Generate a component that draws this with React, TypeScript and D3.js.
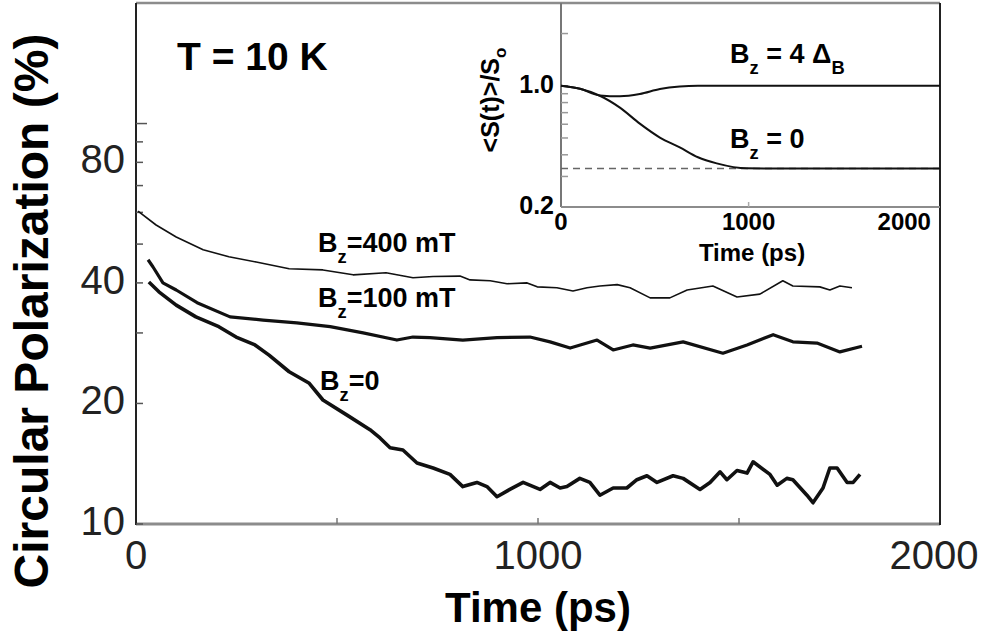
import React, { useRef, useEffect } from 'react';
import * as d3 from 'd3';

// main panel: circular polarization vs time
const t400 = [5, 50, 100, 167, 231, 299, 381, 465, 540, 622, 689, 739, 806, 831, 881, 923, 973, 998, 1047, 1087, 1122, 1154, 1197, 1229, 1279, 1328, 1371, 1435, 1495, 1552, 1609, 1634, 1701, 1726, 1751, 1781];
const p400 = [60.4, 55.8, 52.1, 48.4, 46.5, 45.1, 43.4, 43.1, 41.9, 42.4, 41.2, 41.5, 41.6, 40.7, 40.5, 39.8, 40.0, 39.1, 38.9, 38.2, 38.9, 39.3, 39.6, 38.9, 36.7, 36.7, 38.4, 39.3, 36.9, 37.5, 40.5, 39.3, 39.1, 38.4, 39.3, 38.9];

const t100 = [30, 42, 67, 100, 152, 234, 316, 400, 483, 565, 649, 689, 731, 813, 898, 980, 1030, 1080, 1147, 1187, 1236, 1279, 1361, 1460, 1520, 1585, 1634, 1694, 1751, 1806];
const p100 = [45.7, 43.9, 40.0, 38.4, 35.7, 32.9, 32.3, 31.8, 31.1, 30.0, 28.8, 29.3, 29.2, 28.8, 29.2, 29.3, 28.5, 27.5, 28.8, 27.2, 28.0, 27.5, 28.5, 26.7, 28.0, 29.7, 28.5, 28.3, 26.9, 27.8];

const t0 = [32, 57, 100, 149, 206, 249, 296, 331, 381, 430, 465, 525, 582, 607, 632, 664, 699, 739, 781, 813, 848, 873, 898, 930, 963, 1005, 1030, 1055, 1072, 1104, 1129, 1154, 1187, 1221, 1246, 1271, 1296, 1336, 1361, 1403, 1428, 1453, 1470, 1495, 1520, 1535, 1577, 1595, 1619, 1634, 1669, 1684, 1709, 1726, 1744, 1769, 1784, 1801];
const p0 = [40.2, 38.0, 35.2, 32.9, 31.1, 29.3, 28.0, 26.4, 24.0, 22.5, 20.4, 18.7, 17.2, 16.4, 15.5, 15.3, 14.2, 13.8, 13.3, 12.4, 12.7, 12.4, 11.7, 12.2, 12.7, 12.2, 12.7, 12.3, 12.4, 13.0, 12.7, 11.8, 12.3, 12.3, 12.9, 13.2, 12.7, 13.2, 13.0, 12.2, 12.7, 13.5, 12.9, 13.6, 13.4, 14.3, 13.3, 12.5, 13.0, 12.9, 11.8, 11.3, 12.3, 13.8, 13.8, 12.7, 12.7, 13.3];

const mainYLabels = [10, 20, 40, 80];
const mainYMinor = [30, 50, 60, 70, 90, 100];
const mainXLabels = [0, 1000, 2000];
const mainXMinor = [500, 1000, 1500];

// inset: model <S(t)>/S0
const insetT = [0, 101, 207, 314, 420, 527, 633, 730, 830, 990, 1200, 1500, 2020];
const insetZero = [1.0, 0.96, 0.876, 0.748, 0.605, 0.503, 0.441, 0.387, 0.357, 0.334, 0.333, 0.333, 0.333];
const insetFour = [1.0, 0.96, 0.88, 0.87, 0.896, 0.957, 0.99, 1.0, 1.0, 1.0, 1.0, 1.0, 1.0];
const insetLimit = 1 / 3;
const insetYLabels = [0.2, 1.0];
const insetYMinor = [0.3, 0.4, 0.5, 0.6, 0.7, 0.8, 0.9, 1.0, 2.0];
const insetXLabels = [0, 1000, 2000];

const FONT = '"Liberation Sans", Arial, Helvetica, sans-serif';

const App = () => {
  const svgRef = useRef(null);

  useEffect(() => {
    const svg = d3.select(svgRef.current);
    svg.selectAll('*').remove();
    svg.attr('font-family', FONT);

    const x = d3.scaleLinear().domain([0, 2000]).range([136, 940]);
    const y = d3.scaleLog().domain([10, 200]).range([524, 3]);

    const xi = d3.scaleLinear().domain([0, 2020]).range([561, 940]);
    const yi = d3.scaleLog().domain([0.2, 3]).range([207, 3]);

    const [x0, x1] = x.range();
    const [y0, y1] = y.range();

    // frame
    svg.append('line').attr('x1', x0).attr('x2', x1).attr('y1', y1).attr('y2', y1)
      .attr('stroke', '#8c8c8c').attr('stroke-width', 2.5);
    svg.append('line').attr('x1', x0).attr('x2', x1).attr('y1', y0).attr('y2', y0)
      .attr('stroke', '#8c8c8c').attr('stroke-width', 3);
    svg.append('line').attr('x1', x0).attr('x2', x0).attr('y1', y1).attr('y2', y0 + 1)
      .attr('stroke', '#222').attr('stroke-width', 2);
    svg.append('line').attr('x1', x1).attr('x2', x1).attr('y1', y1).attr('y2', y0 + 1)
      .attr('stroke', '#222').attr('stroke-width', 2);

    // y ticks (inward)
    svg.selectAll('.ytick').data(mainYLabels.concat(mainYMinor)).enter().append('line')
      .attr('x1', x0).attr('x2', d => x0 + (d === 100 ? 11 : 7))
      .attr('y1', d => y(d)).attr('y2', d => y(d))
      .attr('stroke', '#555').attr('stroke-width', 1.5);
    svg.selectAll('.xtick').data(mainXMinor).enter().append('line')
      .attr('x1', d => x(d)).attr('x2', d => x(d))
      .attr('y1', y0).attr('y2', y0 - 6)
      .attr('stroke', '#777').attr('stroke-width', 1.5);

    svg.selectAll('.ylab').data(mainYLabels).enter().append('text')
      .attr('x', 125).attr('y', d => y(d) + 11)
      .attr('text-anchor', 'end').attr('font-size', 40).attr('fill', '#222')
      .text(d => d);
    svg.selectAll('.xlab').data(mainXLabels).enter().append('text')
      .attr('x', d => (d === 2000 ? x(d) - 6 : x(d))).attr('y', 569)
      .attr('text-anchor', 'middle').attr('font-size', 40).attr('fill', '#222')
      .text(d => d);

    svg.append('text')
      .attr('x', x(1000)).attr('y', 622)
      .attr('text-anchor', 'middle').attr('font-size', 42).attr('font-weight', 'bold')
      .text('Time (ps)');
    svg.append('text')
      .attr('transform', 'translate(48,311) rotate(-90)')
      .attr('text-anchor', 'middle').attr('font-size', 48).attr('font-weight', 'bold')
      .text('Circular Polarization (%)');

    svg.append('text')
      .attr('x', 177).attr('y', 70)
      .attr('font-size', 39).attr('font-weight', 'bold')
      .text('T = 10 K');

    // curves
    const line = d3.line().x(d => x(d[0])).y(d => y(d[1]));
    const series = [
      { t: t400, p: p400, w: 1.6 },
      { t: t100, p: p100, w: 3.2 },
      { t: t0, p: p0, w: 3.6 },
    ];
    series.forEach(s => {
      svg.append('path')
        .datum(s.t.map((t, i) => [t, s.p[i]]))
        .attr('fill', 'none').attr('stroke', '#111').attr('stroke-width', s.w)
        .attr('stroke-linejoin', 'round')
        .attr('d', line);
    });

    const subLabel = (px, py, size, parts) => {
      const txt = svg.append('text').attr('x', px).attr('y', py)
        .attr('font-size', size).attr('font-weight', 'bold');
      let shift = 0;
      parts.forEach(([str, sub]) => {
        const dy = sub ? size * 0.4 - shift : -shift;
        shift = sub ? size * 0.4 : 0;
        txt.append('tspan').attr('dy', dy)
          .attr('font-size', sub ? size * 0.68 : size)
          .text(str);
      });
      return txt;
    };

    subLabel(318, 252, 27, [['B', false], ['z', true], ['=400 mT', false]]);
    subLabel(318, 307, 27, [['B', false], ['z', true], ['=100 mT', false]]);
    subLabel(320, 390, 27, [['B', false], ['z', true], ['=0', false]]);

    // inset
    const [ix0, ix1] = xi.range();
    const [iy0, iy1] = yi.range();
    svg.append('line').attr('x1', ix0).attr('x2', ix0).attr('y1', iy1).attr('y2', iy0)
      .attr('stroke', '#777').attr('stroke-width', 2);
    svg.append('line').attr('x1', ix0).attr('x2', ix1).attr('y1', iy0).attr('y2', iy0)
      .attr('stroke', '#8c8c8c').attr('stroke-width', 2);

    svg.selectAll('.iytick').data(insetYMinor).enter().append('line')
      .attr('x1', ix0).attr('x2', ix0 + 7)
      .attr('y1', d => yi(d)).attr('y2', d => yi(d))
      .attr('stroke', '#999').attr('stroke-width', 1.5);
    svg.append('line')
      .attr('x1', xi(1000)).attr('x2', xi(1000)).attr('y1', iy0).attr('y2', iy0 - 5)
      .attr('stroke', '#aaa').attr('stroke-width', 1.5);

    svg.selectAll('.iylab').data(insetYLabels).enter().append('text')
      .attr('x', 554).attr('y', d => yi(d) + 7)
      .attr('text-anchor', 'end').attr('font-size', 25).attr('font-weight', 'bold')
      .text(d => d.toFixed(1));
    svg.selectAll('.ixlab').data(insetXLabels).enter().append('text')
      .attr('x', d => (d === 2000 ? xi(d) - 32 : xi(d))).attr('y', 230)
      .attr('text-anchor', 'middle').attr('font-size', 24).attr('font-weight', 'bold')
      .text(d => d);
    svg.append('text')
      .attr('x', 752).attr('y', 261)
      .attr('text-anchor', 'middle').attr('font-size', 24).attr('font-weight', 'bold')
      .text('Time (ps)');

    const iy = svg.append('text')
      .attr('transform', 'translate(499,100) rotate(-90)')
      .attr('text-anchor', 'middle').attr('font-size', 25).attr('font-weight', 'bold');
    iy.append('tspan').text('<S(t)>/S');
    iy.append('tspan').attr('dy', 7).attr('font-size', 17).text('o');

    svg.append('line')
      .attr('x1', ix0).attr('x2', ix1).attr('y1', yi(insetLimit)).attr('y2', yi(insetLimit))
      .attr('stroke', '#666').attr('stroke-width', 1.6).attr('stroke-dasharray', '7,5');

    const iline = d3.line().x(d => xi(d[0])).y(d => yi(d[1])).curve(d3.curveMonotoneX);
    [insetZero, insetFour].forEach(vals => {
      svg.append('path')
        .datum(insetT.map((t, i) => [t, vals[i]]))
        .attr('fill', 'none').attr('stroke', '#111').attr('stroke-width', 2)
        .attr('d', iline);
    });

    subLabel(730, 63, 27, [['B', false], ['z', true], [' = 4 \u0394', false], ['B', true]]);
    subLabel(730, 148, 27, [['B', false], ['z', true], [' = 0', false]]);
  }, []);

  return (
    <svg ref={svgRef} width={992} height={638}
      style={{ position: 'absolute', left: 0, top: 0, background: '#fff' }} />
  );
};

export default App;
